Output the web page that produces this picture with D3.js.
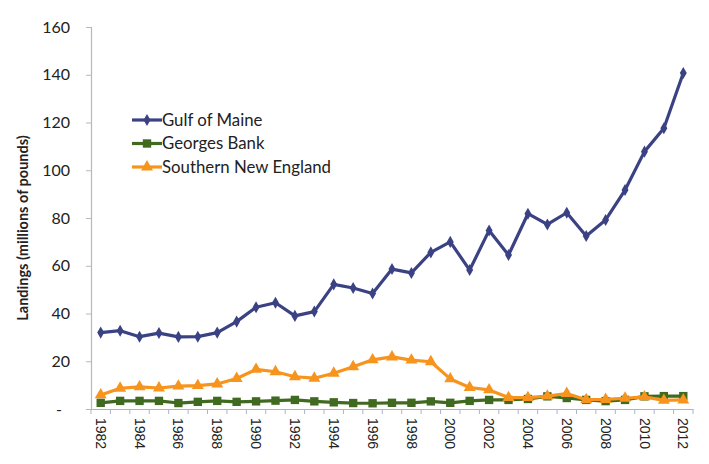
<!DOCTYPE html>
<html>
<head>
<meta charset="utf-8">
<script src="https://cdnjs.cloudflare.com/ajax/libs/d3/7.8.5/d3.min.js"></script>
<style>
    body { margin: 0; background: #fff; }
    svg { display: block; }
    .axis-label { font-family: Lato, "Open Sans", sans-serif; font-weight: bold; font-size: 14.5px; fill: #222; }
    .y-axis text { font-family: Lato, "Open Sans", sans-serif; font-size: 16px; fill: #222; }
    .x-axis text { font-family: "Liberation Sans", Arial, sans-serif; font-size: 14px; fill: #222; }
    .legend text { font-family: Lato, "Open Sans", sans-serif; font-size: 16.8px; fill: #222; }
</style>
</head>
<body>
<div id="chart"></div>
<script>
(function() {
    var width = 709,
        height = 464;
    var margin = {top: 27, right: 16, bottom: 55, left: 91};

    var years = d3.range(1982, 2013);
    var yTicks = [0, 20, 40, 60, 80, 100, 120, 140, 160];

    var gulfOfMaine = [32, 32.8, 30.3, 31.8, 30.2, 30.3, 32, 36.6, 42.6, 44.5, 39, 40.8, 52.2, 50.7, 48.4, 58.6, 57, 65.6, 70, 58.2, 74.8, 64.5, 81.8, 77.3, 82.2, 72.5, 79.2, 91.7, 107.8, 117.6, 140.7];
    var georgesBank = [2.6, 3.4, 3.4, 3.4, 2.5, 3, 3.4, 3, 3.2, 3.5, 3.8, 3.2, 2.8, 2.5, 2.4, 2.6, 2.6, 3.2, 2.6, 3.4, 3.8, 3.8, 4.2, 5.3, 4.6, 3.8, 3.3, 3.8, 5.3, 5.4, 5.4];
    var southernNewEngland = [5.9, 8.7, 9.3, 8.8, 9.6, 9.8, 10.5, 12.8, 16.6, 15.6, 13.5, 12.9, 15, 17.7, 20.6, 21.8, 20.5, 19.8, 12.6, 9, 8, 4.8, 4.8, 5.4, 6.5, 3.9, 4, 4.5, 5.1, 3.6, 3.8];

    var series = [
        {name: "Gulf of Maine", values: gulfOfMaine, color: "#3a4284", marker: d3.symbolDiamond, size: 42},
        {name: "Georges Bank", values: georgesBank, color: "#3f6a1f", marker: d3.symbolSquare, size: 70},
        {name: "Southern New England", values: southernNewEngland, color: "#f7941d", marker: d3.symbolTriangle, size: 62}
    ];

    var svg = d3.select("#chart").append("svg")
        .attr("width", width)
        .attr("height", height);

    var plotW = width - margin.left - margin.right,
        plotH = height - margin.top - margin.bottom;

    var plot = svg.append("g")
        .attr("transform", "translate(" + margin.left + "," + margin.top + ")");

    var xScale = d3.scaleBand()
        .domain(years)
        .range([0, plotW]);

    var yScale = d3.scaleLinear()
        .domain([0, 160])
        .range([plotH, 0]);

    // y axis
    var yAxis = d3.axisLeft(yScale)
        .tickValues(yTicks)
        .tickSize(5)
        .tickPadding(16)
        .tickFormat(function(d) { return d === 0 ? "-" : d; });

    var gy = plot.append("g")
        .attr("class", "y-axis")
        .call(yAxis);
    gy.select(".domain").attr("stroke", "#b8b8b8").attr("stroke-width", 1.2);
    gy.selectAll(".tick line").attr("stroke", "#b8b8b8");
    gy.selectAll(".tick text").filter(function(d) { return d === 0; }).attr("dx", "-8");

    // x axis, ticks at category boundaries
    var xAxis = d3.axisBottom(xScale)
        .tickValues(years.filter(function(y) { return (y - 1982) % 2 === 0; }))
        .tickSize(0)
        .tickPadding(0);

    var gx = plot.append("g")
        .attr("class", "x-axis")
        .attr("transform", "translate(0," + plotH + ")")
        .call(xAxis);
    gx.select(".domain").attr("stroke", "#a9b4cc").attr("stroke-width", 1.2);
    gx.selectAll(".tick text")
        .attr("transform", "rotate(90)")
        .attr("x", 9)
        .attr("y", 0)
        .attr("dy", "0.35em")
        .style("text-anchor", "start");

    var boundaries = years.concat([2013]);
    gx.selectAll("line.cat-tick")
        .data(boundaries)
        .enter()
        .append("line")
        .attr("class", "cat-tick")
        .attr("x1", function(d, i) { return i * xScale.step(); })
        .attr("x2", function(d, i) { return i * xScale.step(); })
        .attr("y1", 0)
        .attr("y2", 5)
        .attr("stroke", "#a9b4cc");

    // lines + markers
    var valueline = d3.line()
        .x(function(d, i) { return xScale(years[i]) + xScale.bandwidth() / 2; })
        .y(function(d) { return yScale(d); });

    series.forEach(function(s) {
        plot.append("path")
            .datum(s.values)
            .attr("class", "line")
            .attr("fill", "none")
            .attr("stroke", s.color)
            .attr("stroke-width", 3.2)
            .attr("stroke-linejoin", "round")
            .attr("d", valueline);

        plot.selectAll(null)
            .data(s.values)
            .enter()
            .append("path")
            .attr("class", "point")
            .attr("transform", function(d, i) {
                return "translate(" + (xScale(years[i]) + xScale.bandwidth() / 2) + "," + yScale(d) + ")";
            })
            .attr("d", d3.symbol().type(s.marker).size(s.size))
            .attr("fill", s.color);
    });

    // y axis title
    svg.append("text")
        .attr("class", "axis-label")
        .attr("transform", "translate(23," + 228 + ") rotate(-90)")
        .attr("text-anchor", "middle")
        .attr("dy", "0.35em")
        .text("Landings (millions of pounds)");

    // legend
    var legend = svg.append("g")
        .attr("class", "legend")
        .attr("transform", "translate(132,120)");

    var rows = legend.selectAll("g")
        .data(series)
        .enter()
        .append("g")
        .attr("transform", function(d, i) { return "translate(0," + (i * 23.5) + ")"; });

    rows.append("line")
        .attr("x1", 0)
        .attr("x2", 30)
        .attr("stroke", function(d) { return d.color; })
        .attr("stroke-width", 3.2);

    rows.append("path")
        .attr("transform", "translate(15,0)")
        .attr("d", function(d) { return d3.symbol().type(d.marker).size(d.size)(); })
        .attr("fill", function(d) { return d.color; });

    rows.append("text")
        .attr("x", 30)
        .attr("dy", "0.35em")
        .text(function(d) { return d.name; });
})();
</script>
</body>
</html>
